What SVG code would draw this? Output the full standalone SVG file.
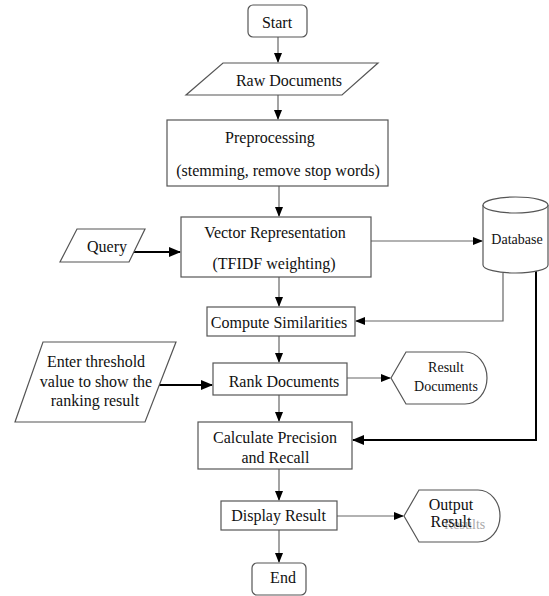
<svg xmlns="http://www.w3.org/2000/svg" width="549" height="596" viewBox="0 0 549 596">
<style>
.box{fill:#fff;stroke:#555;stroke-width:1.2}
.t{font-family:'Liberation Serif',Tinos,'Times New Roman',Times,'Nimbus Roman','DejaVu Serif',serif;font-size:16px;fill:#111;text-anchor:middle}
.s{font-size:14px}
.c{fill:none;stroke:#666;stroke-width:1.2}
.k{fill:none;stroke:#000;stroke-width:2}
</style>
<defs>
<marker id="a" markerWidth="10" markerHeight="8" refX="9" refY="4" orient="auto" markerUnits="userSpaceOnUse">
<path d="M0,0 L10,4 L0,8 Z" fill="#000"/>
</marker>
<marker id="b" markerWidth="12" markerHeight="10" refX="11" refY="5" orient="auto" markerUnits="userSpaceOnUse">
<path d="M0,0 L12,5 L0,10 Z" fill="#000"/>
</marker>
</defs>
<g id="connectors">
<line class="c" x1="278" y1="37" x2="278" y2="62" marker-end="url(#a)"/>
<line class="c" x1="278" y1="95" x2="278" y2="119" marker-end="url(#a)"/>
<line class="c" x1="279" y1="186" x2="279" y2="216" marker-end="url(#a)"/>
<line class="k" x1="134" y1="252" x2="180" y2="252" marker-end="url(#b)"/>
<line class="c" x1="371" y1="241" x2="482" y2="241" marker-end="url(#a)"/>
<line class="c" x1="279" y1="277" x2="279" y2="306" marker-end="url(#a)"/>
<polyline class="c" points="503,273 503,321 356,321" marker-end="url(#a)"/>
<line class="c" x1="279" y1="336" x2="279" y2="362" marker-end="url(#a)"/>
<line class="k" x1="159" y1="385" x2="212" y2="385" marker-end="url(#b)"/>
<line class="c" x1="347" y1="378" x2="390" y2="378" marker-end="url(#a)"/>
<line class="c" x1="279" y1="395" x2="279" y2="421" marker-end="url(#a)"/>
<polyline class="k" points="536,271 536,440 353,440" marker-end="url(#b)"/>
<line class="c" x1="279" y1="469" x2="279" y2="500" marker-end="url(#a)"/>
<line class="c" x1="337" y1="516" x2="403" y2="516" marker-end="url(#a)"/>
<line class="c" x1="279" y1="530" x2="279" y2="562" marker-end="url(#a)"/>
</g>
<g id="start">
<rect class="box" x="248" y="5" width="59" height="32" rx="5"/>
<text class="t" x="277" y="28">Start</text>
</g>
<g id="raw">
<polygon class="box" points="223,63 378,63 342,95 186,95"/>
<text class="t" x="289" y="86">Raw Documents</text>
</g>
<g id="preprocessing">
<rect class="box" x="167" y="120" width="221" height="66"/>
<text class="t" x="270" y="143">Preprocessing</text>
<text class="t" x="278" y="176">(stemming, remove stop words)</text>
</g>
<g id="query">
<polygon class="box" points="77,229 145,229 129,262 60,262"/>
<text class="t" x="107" y="252">Query</text>
</g>
<g id="vector">
<rect class="box" x="181" y="217" width="190" height="60"/>
<text class="t" x="275" y="238">Vector Representation</text>
<text class="t" x="274" y="269">(TFIDF weighting)</text>
</g>
<g id="database">
<path class="box" d="M483,205 V265 A32.5,8 0 0 0 548,265 V205"/>
<ellipse class="box" cx="515.5" cy="205" rx="32.5" ry="8"/>
<text class="t s" x="517" y="244">Database</text>
</g>
<g id="compute">
<rect class="box" x="207" y="307" width="148" height="29"/>
<text class="t" x="279" y="328">Compute Similarities</text>
</g>
<g id="threshold">
<polygon class="box" points="43,342 176,342 145,422 15,422"/>
<text class="t" x="96" y="367">Enter threshold</text>
<text class="t" x="96" y="387">value to show the</text>
<text class="t" x="95" y="406">ranking result</text>
</g>
<g id="rank">
<rect class="box" x="213" y="363" width="134" height="32"/>
<text class="t" x="284" y="387">Rank Documents</text>
</g>
<g id="result-documents">
<path class="box" d="M391,378 L406,352 L465,352 A22,26 0 0 1 465,404 L406,404 Z"/>
<text class="t s" x="446" y="372">Result</text>
<text class="t s" x="446" y="391">Documents</text>
</g>
<g id="calculate">
<rect class="box" x="198" y="422" width="154" height="47"/>
<text class="t" x="275" y="443">Calculate Precision</text>
<text class="t" x="275.5" y="463">and Recall</text>
</g>
<g id="display">
<rect class="box" x="221" y="501" width="116" height="29"/>
<text class="t" x="278.5" y="521">Display Result</text>
</g>
<g id="output">
<path class="box" d="M404,516 L419,490 L478,490 A22,26 0 0 1 478,542 L419,542 Z"/>
<text class="t s" x="444" y="529" style="text-anchor:start;fill:#aaa">Results</text>
<text class="t" x="451" y="510">Output</text>
<text class="t" x="451" y="527">Result</text>
</g>
<g id="end">
<rect class="box" x="252" y="563" width="54" height="32" rx="5"/>
<text class="t" x="283" y="583">End</text>
</g>
</svg>
